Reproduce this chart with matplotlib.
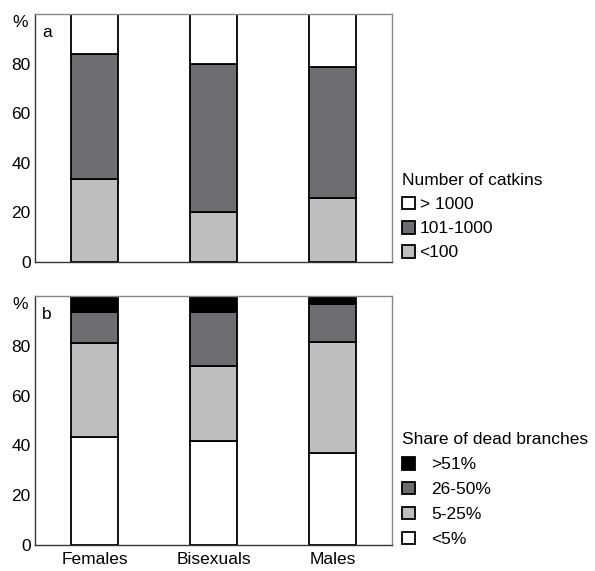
import numpy as np
import matplotlib.pyplot as plt
from matplotlib.patches import Patch

plt.rcParams['font.family'] = ['Liberation Sans', 'DejaVu Sans']

groups = ['Females', 'Bisexuals', 'Males']

# (a) number of catkins, % of trees
catkin_labels = ['<100', '101-1000', '> 1000']
catkins = {
    '<100':     [33.6, 20.3, 26.0],
    '101-1000': [50.1, 59.7, 52.6],
    '> 1000':   [16.3, 20.0, 21.4],
}
catkin_colors = ['#bcbec0', '#6d6e71', 'white']

# (b) share of dead branches, % of trees
dead_labels = ['<5%', '5-25%', '26-50%', '>51%']
dead = {
    '<5%':    [43.2, 41.6, 36.9],
    '5-25%':  [38.0, 30.2, 44.6],
    '26-50%': [12.5, 21.9, 15.4],
    '>51%':   [6.3, 6.3, 3.1],
}
dead_colors = ['white', '#bcbec0', '#6d6e71', 'black']

fs = 12.5

fig = plt.figure(figsize=(5.95, 5.71), dpi=100)
ax_a = fig.add_axes([0.0588, 0.541, 0.600, 0.4345])
ax_b = fig.add_axes([0.0588, 0.0455, 0.600, 0.436])

x = np.arange(len(groups))
w = 0.39


def stacked(ax, labels, data, colors):
    bottom = np.zeros(len(groups))
    for lab, col in zip(labels, colors):
        vals = np.array(data[lab])
        ax.bar(x, vals, w, bottom=bottom, color=col, edgecolor='black', linewidth=1.3)
        bottom += vals


def style(ax, letter):
    ax.set_xlim(-0.5, 2.5)
    ax.set_ylim(0, 100)
    ax.set_yticks([0, 20, 40, 60, 80])
    ax.tick_params(axis='y', length=0, labelsize=fs, pad=3)
    ax.tick_params(axis='x', length=0, labelsize=fs, pad=5)
    for s in ['left', 'bottom']:
        ax.spines[s].set_color('#333333')
    for s in ['top', 'right']:
        ax.spines[s].set_color('#888888')
    for s in ax.spines.values():
        s.set_linewidth(1.0)
    ax.text(-0.02, 0.965, '%', transform=ax.transAxes, ha='right', va='center', fontsize=fs)
    ax.text(0.02, 0.925, letter, transform=ax.transAxes, ha='left', va='center', fontsize=fs)


stacked(ax_a, catkin_labels, catkins, catkin_colors)
stacked(ax_b, dead_labels, dead, dead_colors)
style(ax_a, 'a')
style(ax_b, 'b')
ax_a.set_xticks([])
ax_b.set_xticks(x)
ax_b.set_xticklabels(groups)

# legends, top entry = top of stack
h_a = [Patch(facecolor=c, edgecolor='black', linewidth=1.3, label=l)
       for l, c in zip(catkin_labels[::-1], catkin_colors[::-1])]
leg_a = fig.legend(handles=h_a, title='Number of catkins', loc='upper left',
                   bbox_to_anchor=(0.676, 0.697), frameon=False, fontsize=fs,
                   title_fontsize=fs, handlelength=0.75, handleheight=0.75,
                   handletextpad=0.25, labelspacing=0.5, borderaxespad=0,
                   borderpad=0)
leg_a._legend_box.align = 'left'

h_b = [Patch(facecolor=c, edgecolor='black', linewidth=1.3, label=l)
       for l, c in zip(dead_labels[::-1], dead_colors[::-1])]
leg_b = fig.legend(handles=h_b, title='Share of dead branches', loc='upper left',
                   bbox_to_anchor=(0.676, 0.243), frameon=False, fontsize=fs,
                   title_fontsize=fs, handlelength=0.75, handleheight=0.75,
                   handletextpad=0.9, labelspacing=0.55, borderaxespad=0,
                   borderpad=0)
leg_b._legend_box.align = 'left'

fig.savefig('out.png', dpi=100)
